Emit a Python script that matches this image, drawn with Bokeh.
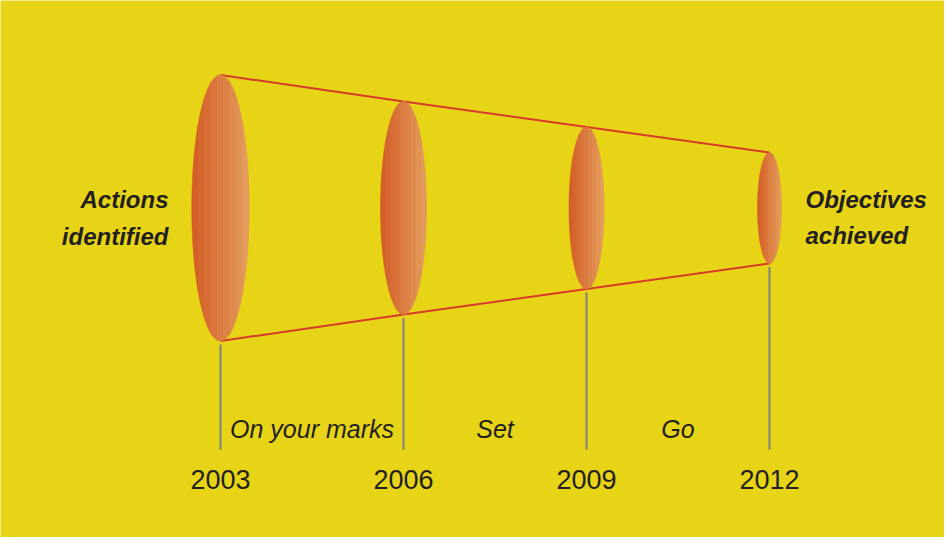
import numpy as np
from bokeh.plotting import figure
from bokeh.models import Range1d
from bokeh.core.properties import value
from bokeh.embed import file_html
from bokeh.resources import INLINE

# ---- data ----
years = [2003, 2006, 2009, 2012]
spans = [266, 213, 162, 111]          # height of each cone section
phases = ["On your marks", "Set", "Go"]
start_label = ["Actions", "identified"]
end_label = ["Objectives", "achieved"]

# ---- style ----
BG = "#E8D417"
TXT = "#231F20"
RED = "#D63A2B"
GREY = "#7F7F80"
C_LEFT = np.array([211, 94, 40])
C_RIGHT = np.array([227, 154, 92])
DEPTH = 0.216      # ellipse width / height
NBANDS = 9

W, H = 944, 537
PX_PER_YEAR = 61.0
x_start = years[0] - 220 / PX_PER_YEAR
x_range = Range1d(x_start, x_start + W / PX_PER_YEAR)
y_range = Range1d(-329.5, 207.5)

p = figure(width=W, height=H, x_range=x_range, y_range=y_range,
           output_backend="svg", toolbar_location=None, min_border=0,
           x_axis_type=None, y_axis_type=None,
           background_fill_color=BG, border_fill_color=BG,
           outline_line_color=None)
p.grid.visible = False

half = [s / 2 for s in spans]

# cone outline
p.line(years, half, line_color=RED, line_width=2)
p.line(years, [-h for h in half], line_color=RED, line_width=2)

# ellipses with banded gradient
xs_all, ys_all, cols = [], [], []
for cx, s in zip(years, spans):
    b = s / 2
    a = DEPTH * s / 2 / PX_PER_YEAR
    for k in range(NBANDS):
        u0 = -1 + 2 * k / NBANDS
        u1 = -1 + 2 * (k + 1) / NBANDS
        th = np.linspace(np.arccos(-u0), np.arccos(-u1), 24)
        xt = cx - a * np.cos(th)
        yt = b * np.sin(th)
        xs_all.append(np.concatenate([xt, xt[::-1]]).tolist())
        ys_all.append(np.concatenate([yt, -yt[::-1]]).tolist())
        t = k / (NBANDS - 1)
        c = (C_LEFT + (C_RIGHT - C_LEFT) * t).astype(int)
        cols.append("#%02x%02x%02x" % tuple(c))
p.patches(xs_all, ys_all, fill_color=cols, line_color=cols, line_width=0.6)

# vertical year ticks
p.segment(x0=years, y0=[-h - 3.5 for h in half], x1=years, y1=[-241.5] * len(years),
          line_color=GREY, line_width=2)

# year labels
p.text(x=years, y=[-271.2] * len(years), text=[str(y) for y in years],
       text_align="center", text_baseline="alphabetic",
       text_font=value("Liberation Sans"), text_font_size="27px", text_color=TXT)

# phase labels
mids = [(years[i] + years[i + 1]) / 2 for i in range(len(phases))]
p.text(x=mids, y=[-220.5] * len(phases), text=phases,
       text_align="center", text_baseline="alphabetic",
       text_font=value("Liberation Sans"), text_font_style="italic",
       text_font_size="25px", text_color=TXT)

# side labels
p.text(x=[years[0]] * 2, y=[8.2, -28.5], text=start_label, x_offset=-52,
       text_align="right", text_baseline="alphabetic",
       text_font=value("Liberation Sans"), text_font_style="bold italic",
       text_font_size="24px", text_color=TXT)
p.text(x=[years[-1]] * 2, y=[8.8, -27.5], text=end_label, x_offset=36,
       text_align="left", text_baseline="alphabetic",
       text_font=value("Liberation Sans"), text_font_style="bold italic",
       text_font_size="24px", text_color=TXT)

open("out.html", "w").write(file_html(p, INLINE))
